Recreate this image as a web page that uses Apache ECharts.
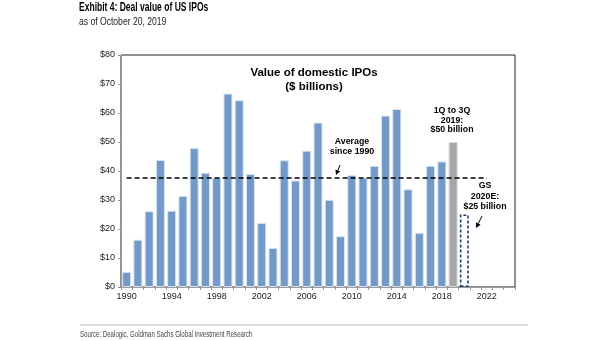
<!DOCTYPE html>
<html>
<head>
<meta charset="utf-8">
<script src="https://cdn.jsdelivr.net/npm/echarts@6/dist/echarts.min.js"></script>
<style>
  html, body { margin: 0; padding: 0; background: #fff; }
  #chart { width: 605px; height: 341px; }
</style>
</head>
<body>
<div id="chart"></div>
<script>
// Years on the category axis (1990 through 2024)
const years = [];
for (let y = 1990; y <= 2024; y++) years.push(String(y));

// Full-year deal value of domestic IPOs, $ billions, 1990-2018
const annualValues = [5.2, 16.3, 26.1, 43.8, 26.3, 31.4, 47.9, 39.4, 37.7, 66.7,
  64.4, 39.0, 22.1, 13.5, 43.7, 36.7, 47.0, 56.7, 30.1, 17.5,
  38.6, 37.7, 41.8, 59.1, 61.4, 33.7, 18.7, 41.8, 43.3];
// 2019 year to date (1Q to 3Q) and the 2020 estimate
const ytd2019 = 50;
const estimate2020 = 25;
// Average since 1990
const averageValue = 37.8;

const yTicks = [0, 10, 20, 30, 40, 50, 60, 70, 80];
const xLabelYears = ['1990', '1994', '1998', '2002', '2006', '2010', '2014', '2018', '2022'];

const blue = '#7299c8';
const grey = '#a6a6a6';
const navy = '#1f3f6a';
const fontBody = '"Liberation Sans", Arial, sans-serif';

const barData = years.map((yr, i) => {
  if (i < annualValues.length) {
    return { value: annualValues[i], itemStyle: { color: blue, borderColor: '#d8e3f1', borderWidth: 1 } };
  }
  if (yr === '2019') {
    return { value: ytd2019, itemStyle: { color: grey, borderColor: '#d9d9d9', borderWidth: 1 } };
  }
  if (yr === '2020') {
    return { value: estimate2020, itemStyle: { color: 'rgba(255,255,255,0)', borderColor: navy, borderWidth: 1.6, borderType: [3, 2] } };
  }
  return null;
});

const chart = echarts.init(document.getElementById('chart'), null, { renderer: 'canvas' });

function arrow(x1, y1, x2, y2) {
  const ang = Math.atan2(y2 - y1, x2 - x1);
  const L = 5, W = 2.6;
  const bx = x2 - L * Math.cos(ang), by = y2 - L * Math.sin(ang);
  const px = -Math.sin(ang) * W, py = Math.cos(ang) * W;
  return [
    { type: 'line', shape: { x1: x1, y1: y1, x2: bx, y2: by }, style: { stroke: '#000', lineWidth: 1 } },
    { type: 'polygon', shape: { points: [[x2, y2], [bx + px, by + py], [bx - px, by - py]] }, style: { fill: '#000' } }
  ];
}

const noteStyle = { fontFamily: fontBody, fontWeight: 'bold', fontSize: 8.8, fill: '#000', textAlign: 'center', lineHeight: 10 };

// Condensed-looking header and footer text (horizontally squeezed about its left edge)
function narrowText(x, y, text, size, weight, color, sx) {
  return { type: 'text', x: x, y: y, scaleX: sx, originX: 0, originY: 0,
    style: { text: text, fontFamily: fontBody, fontWeight: weight, fontSize: size, fill: color } };
}

chart.setOption({
  animation: false,
  backgroundColor: '#fff',
  grid: { left: 121, right: 90, top: 55, bottom: 54, containLabel: false,
    show: true, borderColor: '#222', borderWidth: 1 },
  xAxis: {
    type: 'category',
    data: years,
    boundaryGap: true,
    axisLine: { lineStyle: { color: '#9a9a9a', width: 1 } },
    axisTick: { show: true, length: 3, interval: 0, lineStyle: { color: '#9a9a9a' } },
    axisLabel: {
      interval: 0,
      formatter: v => (xLabelYears.includes(v) ? v : ''),
      color: '#222', fontSize: 9, fontFamily: fontBody, margin: 5
    }
  },
  yAxis: {
    type: 'value',
    min: 0, max: 80, interval: 10,
    axisLine: { show: true, lineStyle: { color: '#9a9a9a', width: 1 } },
    axisTick: { show: true, length: 3, lineStyle: { color: '#9a9a9a' } },
    splitLine: { show: false },
    axisLabel: {
      formatter: v => (yTicks.includes(v) ? '$' + v : ''),
      color: '#222', fontSize: 9, fontFamily: fontBody, margin: 6
    }
  },
  series: [
    {
      type: 'bar',
      data: barData,
      barWidth: 9,
      markLine: {
        silent: true,
        symbol: 'none',
        label: { show: false },
        lineStyle: { color: '#000', type: [5, 3], width: 1.6 },
        data: [[
          { coord: ['1990', averageValue] },
          { coord: ['2022', averageValue] }
        ]]
      }
    }
  ],
  graphic: [
    narrowText(79, 2, 'Exhibit 4: Deal value of US IPOs', 12, 'bold', '#000', 0.71),
    narrowText(79, 16, 'as of October 20, 2019', 11, 'normal', '#222', 0.78),
    { type: 'text', x: 314, y: 66, style: Object.assign({}, noteStyle, { text: 'Value of domestic IPOs\n($ billions)', fontSize: 11.5, lineHeight: 14 }) },
    { type: 'text', x: 352, y: 136.5, style: Object.assign({}, noteStyle, { text: 'Average\nsince 1990' }) },
    { type: 'text', x: 452, y: 106, style: Object.assign({}, noteStyle, { text: '1Q to 3Q\n2019:\n$50 billion', lineHeight: 9.6 }) },
    { type: 'text', x: 485, y: 180, style: Object.assign({}, noteStyle, { text: 'GS\n2020E:\n$25 billion', lineHeight: 10.8 }) },
    ...arrow(340, 165, 336, 175),
    ...arrow(482, 216, 476, 228),
    { type: 'line', shape: { x1: 80, y1: 325, x2: 528, y2: 325 }, style: { stroke: '#bbb', lineWidth: 1.2 } },
    narrowText(80, 330, 'Source: Dealogic, Goldman Sachs Global Investment Research', 8.5, 'normal', '#444', 0.72)
  ]
});
</script>
</body>
</html>
